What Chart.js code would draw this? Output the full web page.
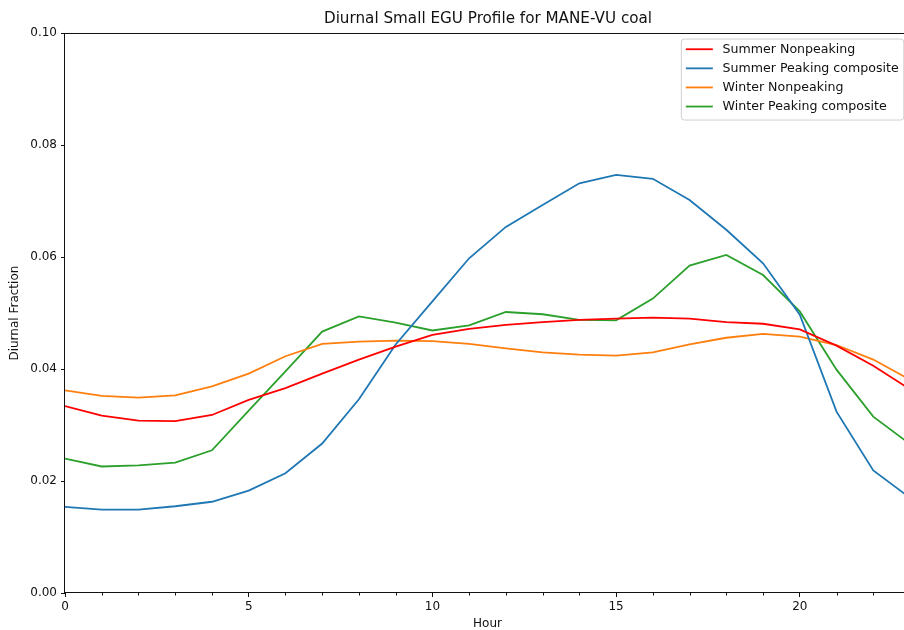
<!DOCTYPE html>
<html>
<head>
<meta charset="utf-8">
<title>Diurnal Small EGU Profile for MANE-VU coal</title>
<script src="https://cdn.jsdelivr.net/npm/chart.js@4.4.0/dist/chart.umd.min.js"></script>
<style>
  html, body { margin: 0; padding: 0; background: #fff; width: 904px; height: 630px; overflow: hidden; }
  #wrap { width: 976px; height: 630px; }
</style>
</head>
<body>
<div id="wrap"><canvas id="chart" width="976" height="630"></canvas></div>
<script>
const hours = [0,1,2,3,4,5,6,7,8,9,10,11,12,13,14,15,16,17,18,19,20,21,22,23];
const xTicks = [0,5,10,15,20];
const yTicks = [0,0.02,0.04,0.06,0.08,0.10];

const seriesNames = ['Summer Nonpeaking','Summer Peaking composite','Winter Nonpeaking','Winter Peaking composite'];
const seriesColors = ['#ff0000','#1f77b4','#ff7f0e','#2ca02c'];

const summerNonpeaking = [0.0334,0.0317,0.0308,0.0307,0.0318,0.0345,0.0366,0.0392,0.0417,0.0440,0.0461,0.0472,
                          0.0479,0.0484,0.0488,0.0490,0.0492,0.0490,0.0484,0.0481,0.0471,0.0442,0.0406,0.0364];
const summerPeaking    = [0.0154,0.0149,0.0149,0.0155,0.0163,0.0183,0.0214,0.0267,0.0346,0.0444,0.0521,0.0598,
                          0.0654,0.0693,0.0732,0.0747,0.0740,0.0702,0.0649,0.0589,0.0497,0.0324,0.0219,0.0170];
const winterNonpeaking = [0.0362,0.0352,0.0349,0.0353,0.0369,0.0392,0.0423,0.0445,0.0449,0.0451,0.0450,0.0445,
                          0.0437,0.0430,0.0426,0.0424,0.0430,0.0444,0.0456,0.0463,0.0458,0.0443,0.0417,0.0381];
const winterPeaking    = [0.0240,0.0226,0.0228,0.0233,0.0255,0.0326,0.0396,0.0467,0.0494,0.0483,0.0469,0.0478,
                          0.0502,0.0498,0.0488,0.0487,0.0526,0.0585,0.0604,0.0568,0.0503,0.0399,0.0315,0.0266];

const seriesValues = [summerNonpeaking, summerPeaking, winterNonpeaking, winterPeaking];

const FONT = 'DejaVu Sans';
const INK = '#111';

// axes box (matplotlib spines)
const framePlugin = {
  id: 'frame',
  afterDatasetsDraw(chart){
    const a = chart.chartArea, ctx = chart.ctx;
    ctx.save();
    ctx.strokeStyle = INK;
    ctx.lineWidth = 1;
    ctx.strokeRect(Math.round(a.left) - 0.5, Math.round(a.top) + 0.5,
                   Math.round(a.right - a.left) + 1, Math.round(a.bottom - a.top) - 1);
    // minor ticks on x every hour
    const xs = chart.scales.x;
    ctx.beginPath();
    hours.forEach(h => {
      if (xTicks.indexOf(h) !== -1) return;
      const px = Math.round(xs.getPixelForValue(h)) + 0.5;
      ctx.moveTo(px, a.bottom);
      ctx.lineTo(px, a.bottom + 2.5);
    });
    ctx.stroke();
    ctx.restore();
  }
};

// legend inside the axes, upper right
const innerLegend = {
  id: 'innerLegend',
  afterDraw(chart){
    const a = chart.chartArea, ctx = chart.ctx;
    ctx.save();
    ctx.font = '12.6px "' + FONT + '"';
    let maxW = 0;
    seriesNames.forEach(n => { maxW = Math.max(maxW, ctx.measureText(n).width); });
    const w = 41.7 + maxW + 4.6, h = 81;
    const x0 = a.right - 6.7 - w, y0 = a.top + 5.3;
    ctx.beginPath();
    ctx.roundRect(x0 + 0.5, y0 + 0.5, w, h, 3);
    ctx.fillStyle = 'rgba(255,255,255,0.8)';
    ctx.fill();
    ctx.strokeStyle = '#d0d0d0';
    ctx.lineWidth = 1;
    ctx.stroke();
    ctx.textBaseline = 'middle';
    seriesNames.forEach((n, i) => {
      const cy = y0 + 10.7 + i * 19.1;
      ctx.strokeStyle = seriesColors[i];
      ctx.lineWidth = 1.8;
      ctx.beginPath();
      ctx.moveTo(x0 + 5, cy);
      ctx.lineTo(x0 + 32, cy);
      ctx.stroke();
      ctx.fillStyle = INK;
      ctx.fillText(n, x0 + 41.7, cy);
    });
    ctx.restore();
  }
};

const datasets = seriesNames.map((name, i) => ({
  label: name,
  data: hours.map((h, k) => ({x: h, y: seriesValues[i][k]})),
  borderColor: seriesColors[i],
  backgroundColor: seriesColors[i],
  borderWidth: 1.8,
  pointRadius: 0,
  tension: 0,
  fill: false
}));

new Chart(document.getElementById('chart').getContext('2d'), {
  type: 'line',
  data: { datasets },
  plugins: [framePlugin, innerLegend],
  options: {
    responsive: false,
    animation: false,
    events: [],
    layout: { padding: 0 },
    plugins: {
      legend: { display: false },
      tooltip: { enabled: false },
      title: {
        display: true,
        text: 'Diurnal Small EGU Profile for MANE-VU coal',
        color: INK,
        font: { family: FONT, size: 15.2, weight: 'normal' },
        padding: { top: 10, bottom: 5 }
      }
    },
    scales: {
      x: {
        type: 'linear',
        min: 0,
        max: 23,
        afterBuildTicks: s => { s.ticks = xTicks.map(v => ({value: v})); },
        afterFit: s => { s.height = 37; },
        ticks: { color: INK, font: { family: FONT, size: 12 }, padding: 3, maxRotation: 0, autoSkip: false,
                 callback: v => String(v) },
        grid: { drawOnChartArea: false, drawTicks: true, tickLength: 4, color: INK, lineWidth: 1 },
        border: { display: false },
        title: { display: true, text: 'Hour', color: INK,
                 font: { family: FONT, size: 12, lineHeight: 1 }, padding: { top: 0, bottom: 0 } }
      },
      y: {
        type: 'linear',
        min: 0,
        max: 0.1,
        afterBuildTicks: s => { s.ticks = yTicks.map(v => ({value: v})); },
        afterFit: s => { s.width = 65; },
        ticks: { color: INK, font: { family: FONT, size: 12 }, padding: 4,
                 callback: v => v.toFixed(2) },
        grid: { drawOnChartArea: false, drawTicks: true, tickLength: 4, color: INK, lineWidth: 1 },
        border: { display: false },
        title: { display: true, text: 'Diurnal Fraction', color: INK,
                 font: { family: FONT, size: 12 }, padding: { top: 8, bottom: 0 } }
      },
      spacer: {
        type: 'linear',
        position: 'right',
        display: true,
        afterFit: s => { s.width = 66; },
        ticks: { display: false },
        grid: { display: false, drawTicks: false },
        border: { display: false }
      }
    }
  }
});
</script>
</body>
</html>
